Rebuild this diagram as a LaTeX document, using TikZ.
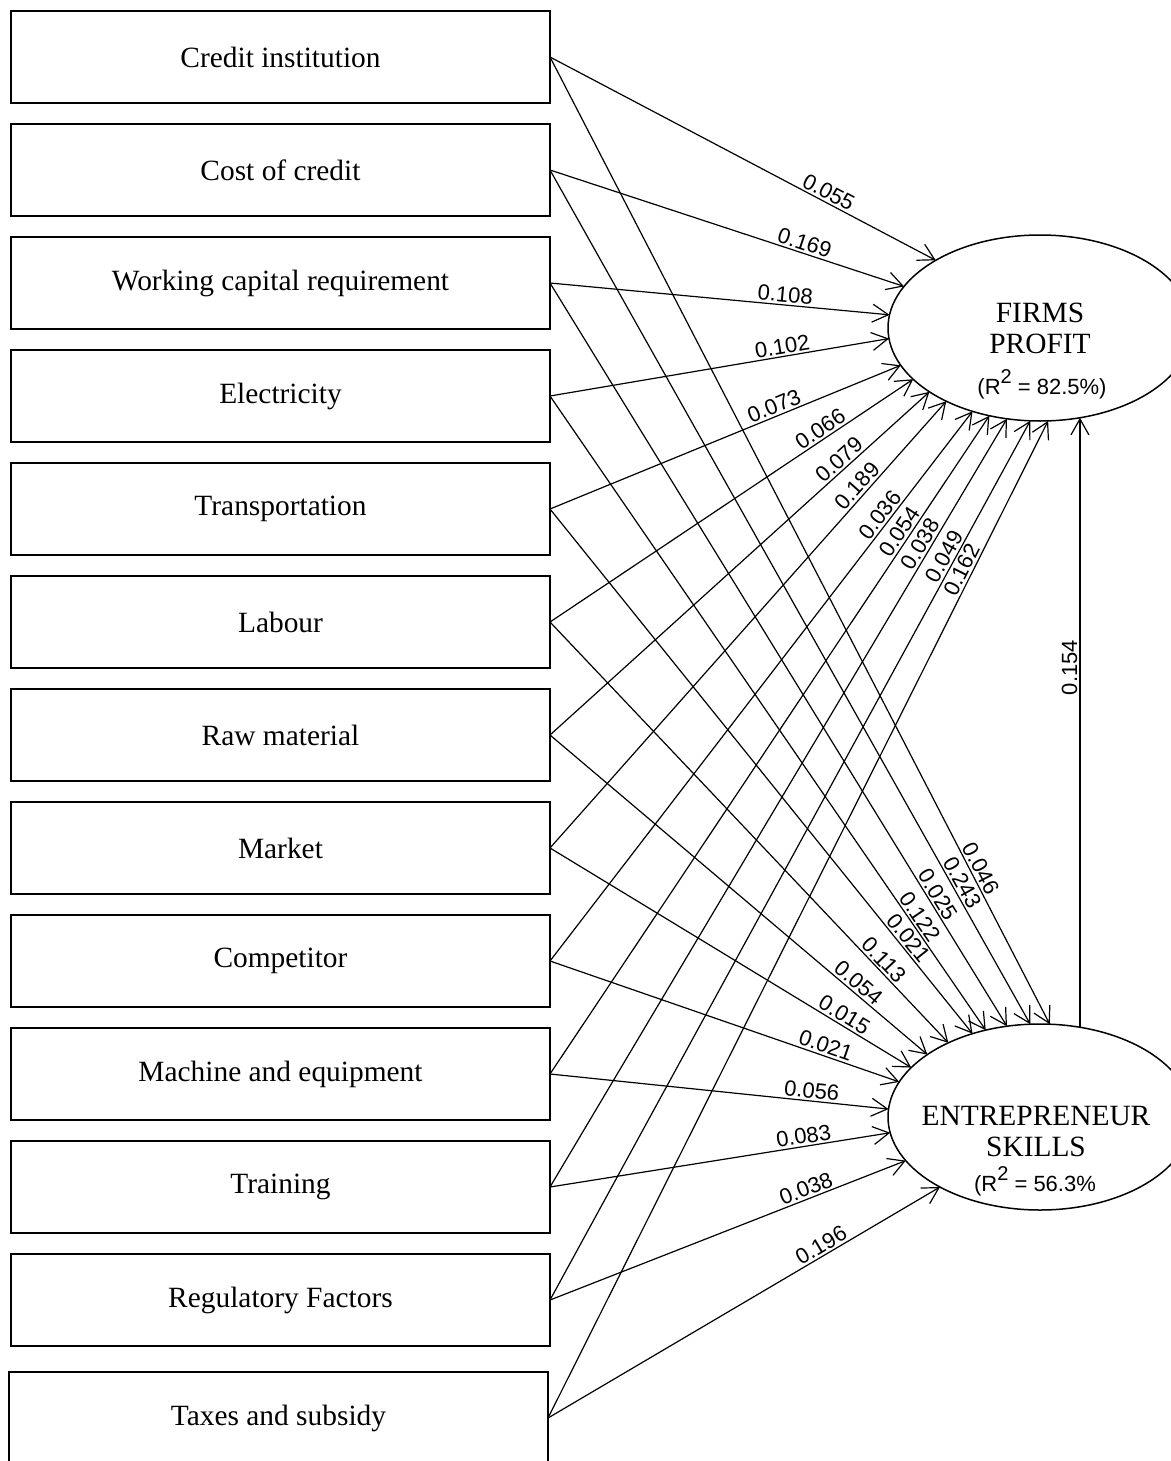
\documentclass[tikz,border=0pt]{standalone}
\usepackage{fontspec}
\setmainfont{Liberation Serif}
\setsansfont{Liberation Sans}
\usetikzlibrary{arrows.meta,positioning,shapes.geometric}

\newcommand{\rsqtwo}{\raisebox{0.5em}{\fontsize{10}{10}\selectfont 2}}

\tikzset{
	factor/.style={rectangle, draw, line width=0.75pt, minimum width=269.5pt, minimum height=46pt, inner sep=0pt, outer sep=0pt, font=\fontsize{14.7}{15}\selectfont},
	latent/.style={ellipse, draw, line width=0.75pt, minimum width=152pt, minimum height=93pt, inner sep=0pt, outer sep=0pt},
	latname/.style={align=center, inner sep=0pt, font=\fontsize{14.7}{15.5}\selectfont},
	rsq/.style={inner sep=0pt, font=\sffamily\fontsize{11}{13}\selectfont},
	coef/.style={sloped, above, inner sep=1pt, font=\sffamily\fontsize{11}{13}\selectfont},
	link/.style={line width=0.6pt, -{Straight Barb[length=8pt, width=9pt]}}
}

\begin{document}
\begin{tikzpicture}[x=0.5pt, y=-0.5pt]
				\useasboundingbox (0,0) rectangle (1171,1461);
				
				\node[factor] (credit) at (280.5,57) {Credit institution};
				\node[factor, below=10.5pt of credit] (cost) {Cost of credit};
				\node[factor, below=10.5pt of cost] (wcap) {Working capital requirement};
				\node[factor, below=10.5pt of wcap] (elec) {Electricity};
				\node[factor, below=10.5pt of elec] (transp) {Transportation};
				\node[factor, below=10.5pt of transp] (labour) {Labour};
				\node[factor, below=10.5pt of labour] (rawmat) {Raw material};
				\node[factor, below=10.5pt of rawmat] (market) {Market};
				\node[factor, below=10.5pt of market] (compet) {Competitor};
				\node[factor, below=10.5pt of compet] (machine) {Machine and equipment};
				\node[factor, below=10.5pt of machine] (training) {Training};
				\node[factor, below=10.5pt of training] (regul) {Regulatory Factors};
				\node[factor, below=13pt of regul, xshift=-1pt] (taxes) {Taxes and subsidy};
				
				\node[latent] (firms) at (1040,328) {};
				\node[latname] (firmsname) at (1040,328) {FIRMS\\PROFIT};
				\node[rsq] (firmsrsq) at (1042,384) {(R\rsqtwo{} = 82.5\%)};
				
				\node[latent] (skills) at (1040,1117) {};
				\node[latname] (skillsname) at (1036,1132) {ENTREPRENEUR\\SKILLS};
				\node[rsq] (skillsrsq) at (1035,1181) {(R\rsqtwo{} = 56.3\%};
				
				\path[link]
				(credit.east) edge node[coef, pos=.71] {0.055} (firms.147)
				(cost.east) edge node[coef, pos=.71] {0.169} (firms.163)
				(wcap.east) edge node[coef, pos=.69] {0.108} (firms.175)
				(elec.east) edge node[coef, pos=.69] {0.102} (firms.184)
				(transp.east) edge node[coef, pos=.65] {0.073} (firms.195)
				(labour.east) edge node[coef, pos=.76] {0.066} (firms.202)
				(rawmat.east) edge node[coef, pos=.78] {0.079} (firms.210)
				(market.east) edge node[coef, pos=.795] {0.189} (firms.218)
				(compet.east) edge node[coef, pos=.80] {0.036} (firms.231)
				(machine.east) edge node[coef, pos=.815] {0.054} (firms.240)
				(training.east) edge node[coef, pos=.83] {0.038} (firms.250)
				(regul.east) edge node[coef, pos=.84] {0.049} (firms.264)
				(taxes.east) edge node[coef, pos=.846] {0.162} (firms.275);
				
				\path[link]
				(credit.east) edge node[coef, pos=.844] {0.046} (skills.84)
				(cost.east) edge node[coef, pos=.84] {0.243} (skills.96)
				(wcap.east) edge node[coef, pos=.83] {0.025} (skills.110)
				(elec.east) edge node[coef, pos=.83] {0.122} (skills.122)
				(transp.east) edge node[coef, pos=.83] {0.021} (skills.129)
				(labour.east) edge node[coef, pos=.82] {0.113} (skills.141)
				(rawmat.east) edge node[coef, pos=.80] {0.054} (skills.151)
				(market.east) edge node[coef, pos=.80] {0.015} (skills.159)
				(compet.east) edge node[coef, pos=.78] {0.021} (skills.166)
				(machine.east) edge node[coef, pos=.77] {0.056} (skills.177)
				(training.east) edge node[coef, pos=.75] {0.083} (skills.186)
				(regul.east) edge node[coef, pos=.73] {0.038} (skills.198)
				(taxes.east) edge node[coef, pos=.71] {0.196} (skills.215);
				
				\path[link]
				(skills.66) edge node[coef, pos=.59] {0.154} (firms.294);
\end{tikzpicture}
\end{document}
